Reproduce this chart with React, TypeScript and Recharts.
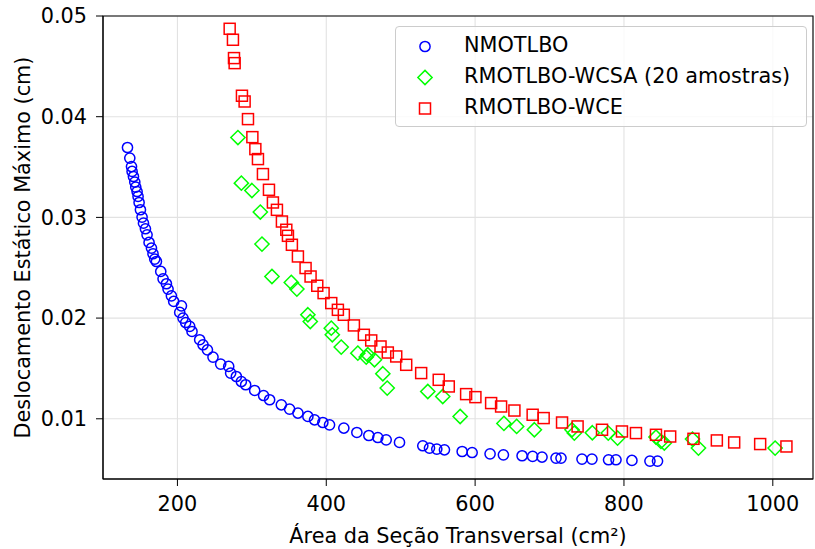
import React from "react";
import {
  CartesianGrid,
  Label,
  Legend,
  ReferenceArea,
  Scatter,
  ScatterChart,
  XAxis,
  YAxis,
} from "recharts";

document.body.style.margin = "0";

const FONT = "DejaVu Sans";

// NMOTLBO
const nmArea = [
  132.9, 136.0, 138.3, 139.1, 140.9, 142.7, 144.0, 145.8, 147.1, 148.5, 150.3, 152.5, 154.4,
  157.0, 159.2, 161.9, 165.1, 167.2, 169.5, 171.8, 177.6, 180.7, 185.2, 187.4, 191.9, 195.0,
  205.4, 203.1, 207.5, 211.1, 216.5, 219.6, 229.9, 234.4, 240.3, 247.8, 258.1, 268.9, 271.5,
  279.2, 285.9, 291.7, 303.8, 315.8, 323.9, 339.6, 350.7, 361.9, 375.3, 384.3, 395.4, 404.4,
  423.6, 441.1, 457.2, 469.3, 480.5, 498.4, 529.7, 538.7, 548.5, 558.8, 582.6, 596.0, 620.1,
  638.0, 663.1, 677.3, 689.9, 708.7, 715.4, 743.6, 757.0, 779.3, 789.3, 810.7, 834.9, 845.1,
];
const nmDisp = [
  0.03694, 0.03589, 0.03505, 0.03456, 0.03406, 0.03351, 0.03301, 0.03257, 0.03208, 0.03148,
  0.03076, 0.03003, 0.02943, 0.02887, 0.02827, 0.02751, 0.02695, 0.02639, 0.02586, 0.02562,
  0.02463, 0.0239, 0.02341, 0.02288, 0.02221, 0.02165, 0.02122, 0.02056, 0.02, 0.01956,
  0.01917, 0.01867, 0.01785, 0.01735, 0.01685, 0.01613, 0.01543, 0.0152, 0.01454, 0.0142,
  0.0137, 0.01338, 0.01281, 0.01231, 0.01189, 0.01139, 0.01096, 0.01057, 0.01023, 0.0099,
  0.00963, 0.0094, 0.00908, 0.00864, 0.00834, 0.00814, 0.00791, 0.00765, 0.00732, 0.00709,
  0.00699, 0.00692, 0.00675, 0.00665, 0.00652, 0.00642, 0.00633, 0.00626, 0.0062, 0.0061,
  0.0061, 0.006, 0.006, 0.00593, 0.00593, 0.00586, 0.0058, 0.0058,
];

// RMOTLBO-WCSA (20 amostras)
const wcsaArea = [
  281.3, 285.9, 300.1, 311.4, 313.6, 327.0, 353.0, 360.5, 375.3, 378.5, 406.7, 408.1, 420.1,
  442.4, 455.8, 453.7, 464.8, 476.0, 481.9, 536.4, 556.5, 579.9, 638.7, 655.8, 679.6, 730.2,
  733.3, 757.5, 778.9, 791.4, 843.0, 849.7, 854.2, 892.1, 900.1, 1003.1,
];
const wcsaDisp = [
  0.03793, 0.0334, 0.03267, 0.03053, 0.02735, 0.02413, 0.02354, 0.02288, 0.02033, 0.01966,
  0.019, 0.01834, 0.01712, 0.01652, 0.01636, 0.01613, 0.01586, 0.01447, 0.01305, 0.01271,
  0.01221, 0.01023, 0.00954, 0.00924, 0.00891, 0.00891, 0.00858, 0.00861, 0.00858, 0.00808,
  0.00818, 0.00775, 0.00759, 0.00798, 0.00709, 0.00709,
];

// RMOTLBO-WCE
const wceArea = [
  270.2, 274.6, 276.0, 276.9, 286.7, 290.3, 294.8, 300.7, 304.7, 308.2, 314.9, 323.0, 328.3,
  333.7, 340.4, 346.3, 348.5, 353.8, 361.9, 372.2, 378.9, 387.9, 396.4, 406.7, 415.6, 423.6,
  437.1, 450.5, 460.4, 472.9, 482.7, 494.0, 507.4, 527.5, 551.1, 564.6, 587.9, 600.4, 621.5,
  634.9, 652.8, 677.3, 692.1, 716.8, 737.7, 770.5, 797.3, 816.1, 843.0, 862.1, 893.4, 924.8,
  948.1, 983.0, 1018.3,
];
const wceDisp = [
  0.04873, 0.04764, 0.04582, 0.04532, 0.04208, 0.04151, 0.03976, 0.03797, 0.03678, 0.03579,
  0.0343, 0.03274, 0.03148, 0.03075, 0.02959, 0.02877, 0.02817, 0.02728, 0.02612, 0.02497,
  0.02413, 0.02321, 0.02248, 0.02149, 0.02082, 0.02033, 0.01927, 0.01834, 0.01778, 0.01718,
  0.01658, 0.01619, 0.01536, 0.01454, 0.01387, 0.01321, 0.01245, 0.01215, 0.01156, 0.01122,
  0.01082, 0.0104, 0.01007, 0.00963, 0.00924, 0.00891, 0.00874, 0.00858, 0.00841, 0.00824,
  0.00801, 0.00785, 0.00765, 0.00749, 0.00725,
];

const xTicks = [200, 400, 600, 800, 1000];
const yTicks = [0.01, 0.02, 0.03, 0.04, 0.05];
const xDomain: [number, number] = [100, 1054];
const yDomain: [number, number] = [0.00402, 0.05];

const zip = (xs: number[], ys: number[]) => xs.map((x, i) => ({ x, y: ys[i] }));

const BLUE = "#0000ff";
const GREEN = "#00ff00";
const RED = "#ff0000";

function CircleMark({ cx, cy, color = BLUE }: any) {
  return <circle cx={cx} cy={cy} r={5.1} fill="none" stroke={color} strokeWidth={1.5} />;
}

function DiamondMark({ cx, cy, color = GREEN }: any) {
  const h = 7.1;
  return (
    <path
      d={`M${cx},${cy - h}L${cx + h},${cy}L${cx},${cy + h}L${cx - h},${cy}Z`}
      fill="none"
      stroke={color}
      strokeWidth={1.5}
    />
  );
}

function SquareMark({ cx, cy, color = RED }: any) {
  const s = 5.5;
  return (
    <rect x={cx - s} y={cy - s} width={2 * s} height={2 * s} fill="none" stroke={color} strokeWidth={1.5} />
  );
}

const legendItems = [
  { name: "NMOTLBO", Mark: CircleMark },
  { name: "RMOTLBO-WCSA (20 amostras)", Mark: DiamondMark },
  { name: "RMOTLBO-WCE", Mark: SquareMark },
];

function LegendBox() {
  return (
    <div
      style={{
        position: "relative",
        width: 410,
        height: 99,
        border: "1px solid #cccccc",
        borderRadius: 4,
        background: "rgba(255,255,255,0.8)",
        fontFamily: FONT,
        fontSize: 20.8,
        color: "#000",
      }}
    >
      {legendItems.map((it, i) => (
        <div
          key={it.name}
          style={{
            position: "absolute",
            left: 0,
            top: 3 + i * 31.2,
            height: 30,
            display: "flex",
            alignItems: "center",
            whiteSpace: "nowrap",
          }}
        >
          <svg width={60} height={30} style={{ display: "block" }}>
            <it.Mark cx={29} cy={16.5} />
          </svg>
          <span style={{ marginLeft: 8, lineHeight: "30px" }}>{it.name}</span>
        </div>
      ))}
    </div>
  );
}

export default function App() {
  const tickStyle = { fontSize: 20.8, fill: "#000", fontFamily: FONT };
  return (
    <div style={{ position: "relative", width: 815, height: 549, background: "#fff" }}>
      <ScatterChart width={815} height={549} margin={{ top: 16, right: 2, bottom: 0, left: 0 }}>
        <CartesianGrid stroke="#e2e2e2" strokeWidth={1.1} />
        <XAxis
          type="number"
          dataKey="x"
          domain={xDomain}
          ticks={xTicks}
          allowDataOverflow
          height={70}
          stroke="#000"
          tickSize={7}
          tickMargin={10.5}
          tick={tickStyle}
        >
          <Label
            content={() => (
              <text x={458} y={543.3} textAnchor="middle" fontSize={20.8} fontFamily={FONT} fill="#000">
                Área da Seção Transversal (cm²)
              </text>
            )}
          />
        </XAxis>
        <YAxis
          type="number"
          dataKey="y"
          domain={yDomain}
          ticks={yTicks}
          allowDataOverflow
          width={103}
          stroke="#000"
          tickSize={7}
          tickMargin={9}
          tick={tickStyle}
          tickFormatter={(v: number) => v.toFixed(2)}
        >
          <Label
            content={() => (
              <text
                x={30}
                y={247.5}
                transform="rotate(-90 30 247.5)"
                textAnchor="middle"
                fontSize={20.8}
                fontFamily={FONT}
                fill="#000"
              >
                Deslocamento Estático Máximo (cm)
              </text>
            )}
          />
        </YAxis>
        <ReferenceArea
          x1={xDomain[0]}
          x2={xDomain[1]}
          y1={yDomain[0]}
          y2={yDomain[1]}
          fill="none"
          fillOpacity={0}
          stroke="#000"
          strokeWidth={1.1}
          ifOverflow="visible"
        />
        <Scatter name="NMOTLBO" data={zip(nmArea, nmDisp)} shape={<CircleMark />} isAnimationActive={false} />
        <Scatter
          name="RMOTLBO-WCSA (20 amostras)"
          data={zip(wcsaArea, wcsaDisp)}
          shape={<DiamondMark />}
          isAnimationActive={false}
        />
        <Scatter name="RMOTLBO-WCE" data={zip(wceArea, wceDisp)} shape={<SquareMark />} isAnimationActive={false} />
        <Legend
          layout="horizontal"
          verticalAlign="middle"
          align="center"
          content={() => <LegendBox />}
          wrapperStyle={{ left: 395, top: 26, width: 412, height: 101 }}
        />
      </ScatterChart>
    </div>
  );
}
